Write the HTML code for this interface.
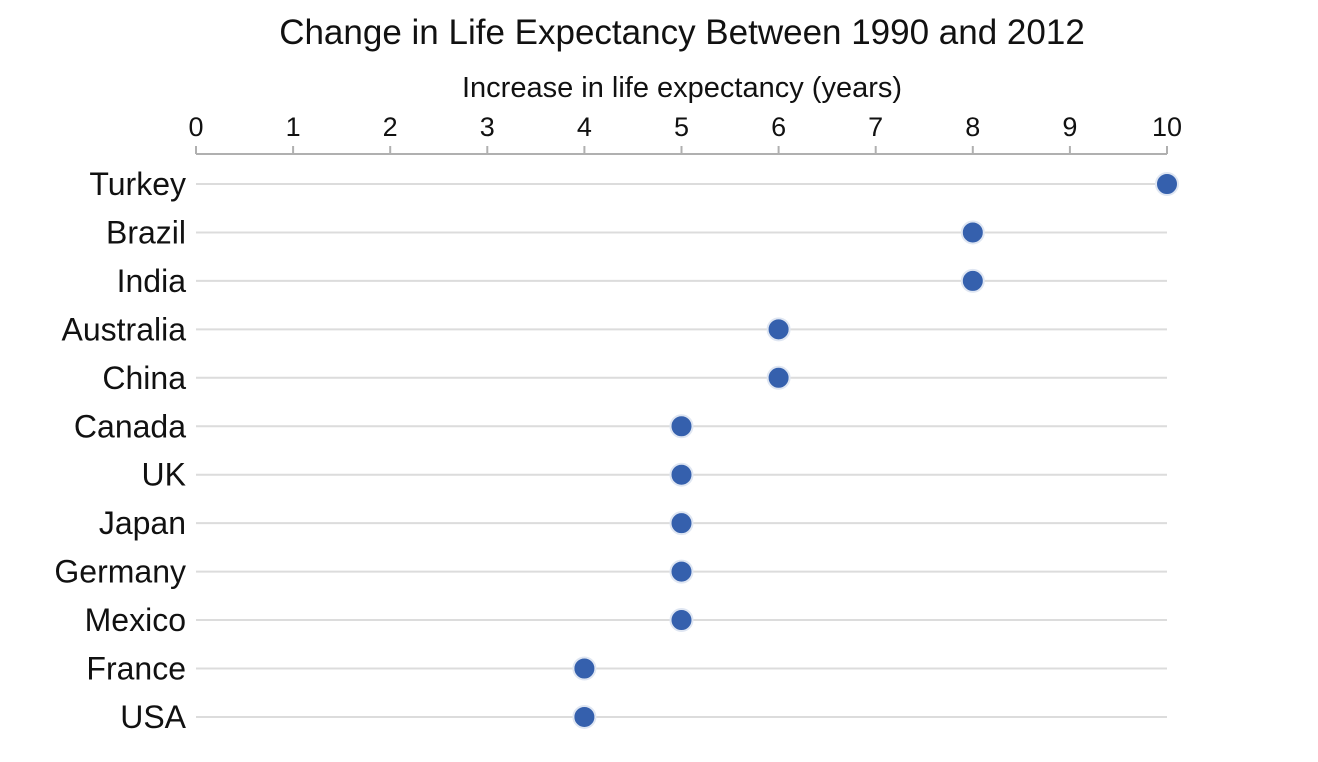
<!DOCTYPE html>
<html><head><meta charset="utf-8"><style>
body{margin:0;background:#fff;}
svg{display:block;font-family:"Liberation Sans",sans-serif;}
</style></head><body>
<svg id="chart" width="1318" height="762">
<text x="682" y="44" text-anchor="middle" font-size="35" fill="#111">Change in Life Expectancy Between 1990 and 2012</text>
<text x="682" y="97" text-anchor="middle" font-size="29" fill="#111">Increase in life expectancy (years)</text>
<g id="axis"></g><g id="grid"></g><g id="dots"></g>
</svg>
<script>
const countries=["Turkey","Brazil","India","Australia","China","Canada","UK","Japan","Germany","Mexico","France","USA"];
const values=[10,8,8,6,6,5,5,5,5,5,4,4];
const ticks=[0,1,2,3,4,5,6,7,8,9,10];
const NS="http://www.w3.org/2000/svg";
const x0=196,x1=1167,xmax=10;
const xs=v=>x0+(v/xmax)*(x1-x0);
const y0=184,step=48.45;
const ys=i=>y0+i*step;
function mk(t,a,p){const e=document.createElementNS(NS,t);for(const k in a)e.setAttribute(k,a[k]);p.appendChild(e);return e;}
const ax=document.getElementById('axis');
const al=mk('line',{x1:x0,x2:x1,y1:154,y2:154,stroke:'#b0b0b0','stroke-width':2},ax);


ticks.forEach(t=>{
 const l=mk('line',{x1:xs(t),x2:xs(t),y1:146,y2:154,stroke:'#b0b0b0','stroke-width':2},ax);
 
 
 const tx=mk('text',{x:xs(t),y:136,'text-anchor':'middle','font-size':27,fill:'#111'},ax);
 tx.textContent=t;
 
 
});
const g=document.getElementById('grid'),d=document.getElementById('dots');
countries.forEach((c,i)=>{
 const y=ys(i);
 const l=mk('line',{x1:x0,x2:x1,y1:y,y2:y,stroke:'#dcdcdc','stroke-width':2},g);
 
 
 const t=mk('text',{x:186,y:y+11,'text-anchor':'end','font-size':32,fill:'#111'},g);
 t.textContent=c;
 
 
 const p=mk('circle',{cx:xs(values[i]),cy:y,r:11,fill:'#3560ad',stroke:'#dfe6f2','stroke-width':2},d);
 
 
});
</script>
</body></html>
